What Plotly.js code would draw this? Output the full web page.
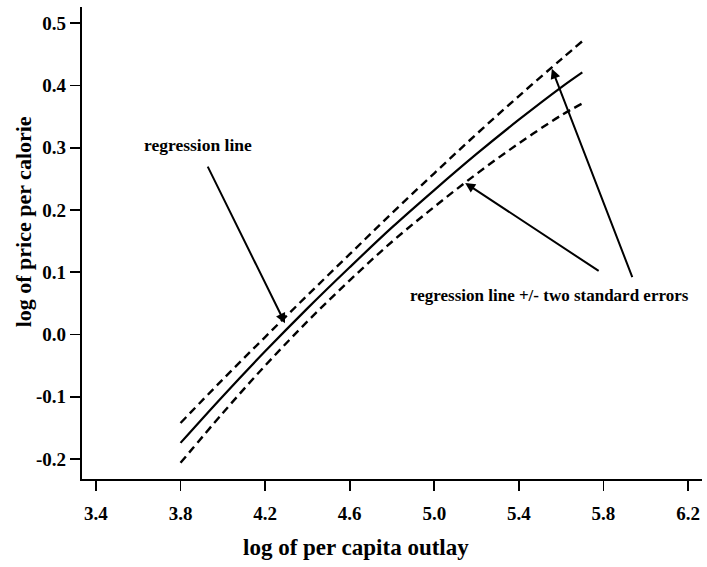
<!DOCTYPE html>
<html>
<head>
<meta charset="utf-8">
<script src="https://cdn.plot.ly/plotly-3.0.1.min.js"></script>
<style>html,body{margin:0;padding:0;background:#fff}#chart{width:707px;height:567px}</style>
</head>
<body>
<div id="chart"></div>
<script>
const outlay = [3.8, 4.0, 4.2, 4.4, 4.6, 4.8, 5.0, 5.2, 5.4, 5.6, 5.7];
const fitted = [-0.174, -0.099, -0.027, 0.042, 0.108, 0.172, 0.232, 0.290, 0.345, 0.397, 0.421];
const upperBand = [-0.142, -0.072, -0.004, 0.063, 0.129, 0.195, 0.259, 0.322, 0.383, 0.442, 0.471];
const lowerBand = [-0.206, -0.126, -0.050, 0.021, 0.087, 0.149, 0.205, 0.258, 0.307, 0.352, 0.371];
const xTicks = [3.4, 3.8, 4.2, 4.6, 5.0, 5.4, 5.8, 6.2];
const xTickText = ["3.4", "3.8", "4.2", "4.6", "5.0", "5.4", "5.8", "6.2"];
const yTicks = [-0.2, -0.1, 0.0, 0.1, 0.2, 0.3, 0.4, 0.5];
const yTickText = ["-0.2", "-0.1", "0.0", "0.1", "0.2", "0.3", "0.4", "0.5"];
const xTitle = "log of per capita outlay";
const yTitle = "log of price per calorie";

const font = "Liberation Serif, Times New Roman, serif";
const traces = [
  {x: outlay, y: upperBand, mode: "lines", line: {color: "#000", width: 2.4, dash: "8px,5px", shape: "spline"}, hoverinfo: "skip"},
  {x: outlay, y: fitted, mode: "lines", line: {color: "#000", width: 2.2, shape: "spline"}, hoverinfo: "skip"},
  {x: outlay, y: lowerBand, mode: "lines", line: {color: "#000", width: 2.4, dash: "8px,5px", shape: "spline"}, hoverinfo: "skip"}
];
const layout = {
  width: 707, height: 567,
  margin: {l: 82, r: 5, t: 7, b: 88},
  paper_bgcolor: "#fff", plot_bgcolor: "#fff",
  showlegend: false,
  font: {family: font, color: "#000", size: 19, weight: 700},
  xaxis: {
    range: [3.334, 6.266], tickmode: "array", tickvals: xTicks, ticktext: xTickText,
    showline: true, linecolor: "#000", linewidth: 2.2, mirror: false,
    ticks: "outside", ticklen: 10, tickwidth: 1.8, tickcolor: "#000",
    showgrid: false, zeroline: false, ticklabelstandoff: 6,
    tickfont: {family: font, size: 19, color: "#000", weight: 700}
  },
  yaxis: {
    range: [-0.232, 0.526], tickmode: "array", tickvals: yTicks, ticktext: yTickText,
    showline: true, linecolor: "#000", linewidth: 2.2,
    ticks: "outside", ticklen: 10, tickwidth: 1.8, tickcolor: "#000",
    showgrid: false, zeroline: false, ticklabelstandoff: 0,
    tickfont: {family: font, size: 19, color: "#000", weight: 700}
  },
  annotations: [
    {x: 0.442, y: -0.146, xref: "paper", yref: "paper", text: xTitle, showarrow: false,
     xanchor: "center", yanchor: "middle",
     font: {family: font, size: 23, color: "#000", weight: 700}},
    {x: -0.095, y: 0.544, xref: "paper", yref: "paper", text: yTitle, showarrow: false, textangle: -90,
     xanchor: "center", yanchor: "middle",
     font: {family: font, size: 22, color: "#000", weight: 700}},
    {x: 3.882, y: 0.304, xref: "x", yref: "y", text: "regression line", showarrow: false,
     font: {family: font, size: 17.5, color: "#000", weight: 700}},
    {x: 5.543, y: 0.0634, xref: "x", yref: "y", text: "regression line +/- two standard errors", showarrow: false,
     font: {family: font, size: 17, color: "#000", weight: 700}},
    {x: 4.294, y: 0.0183, xref: "x", yref: "y", text: "", showarrow: true, ax: -78, ay: -158,
     arrowhead: 2, arrowsize: 1, arrowwidth: 2, arrowcolor: "#000"},
    {x: 5.146, y: 0.2435, xref: "x", yref: "y", text: "", showarrow: true, ax: 135, ay: 89,
     arrowhead: 2, arrowsize: 1, arrowwidth: 2, arrowcolor: "#000"},
    {x: 5.556, y: 0.427, xref: "x", yref: "y", text: "", showarrow: true, ax: 81, ay: 210,
     arrowhead: 2, arrowsize: 1, arrowwidth: 2, arrowcolor: "#000"}
  ]
};
Plotly.newPlot("chart", traces, layout, {displayModeBar: false, staticPlot: true});
</script>
</body>
</html>
